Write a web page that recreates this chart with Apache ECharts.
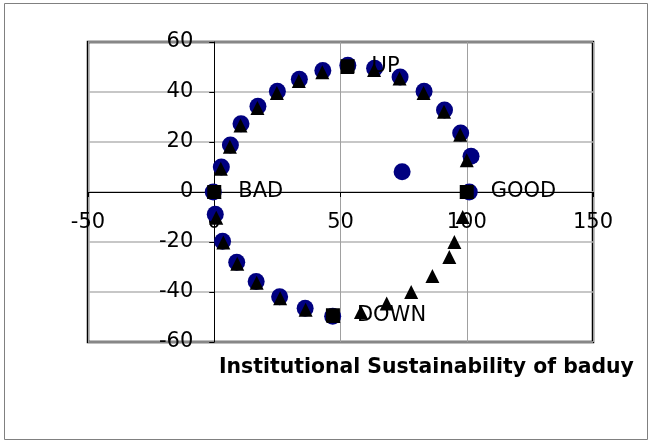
<!DOCTYPE html>
<html>
<head>
<meta charset="utf-8">
<script src="https://cdn.jsdelivr.net/npm/echarts@6/dist/echarts.min.js"></script>
<style>
  body { margin: 0; background: #fff; }
</style>
</head>
<body>
<div id="main" style="width: 648px; height: 443px"></div>
<script>
// blue circles
const circleX = [-0.4, 0.4, 3.3, 8.9, 16.6, 25.9, 36.0, 46.9, 101.0, 101.7, 97.6, 91.2, 83.1, 73.6, 63.5, 52.9, 43.0, 33.7, 25.0, 17.3, 10.6, 6.4, 2.8, 74.4];
const circleY = [0, -8.9, -19.7, -28.1, -35.8, -41.9, -46.5, -49.7, 0, 14.3, 23.6, 32.8, 40.3, 46.0, 49.5, 50.7, 48.6, 45.1, 40.3, 34.3, 27.3, 18.8, 10.0, 8.1];
// black triangles
const triX = [0, 0.8, 3.6, 9.1, 16.8, 26.1, 36.2, 47.2, 58.1, 68.3, 78.0, 86.4, 93.1, 95.1, 98.4, 100, 100.0, 97.4, 91.0, 82.9, 73.4, 63.3, 52.7, 42.8, 33.5, 24.8, 17.1, 10.4, 6.2, 2.6];
const triY = [0, -10.3, -20.2, -28.7, -36.3, -42.5, -47.1, -49.6, -48.0, -44.6, -40.0, -33.6, -26.0, -20.0, -10.0, 0, 12.7, 22.9, 32.1, 39.6, 45.4, 48.8, 50.0, 47.9, 44.4, 39.6, 33.6, 26.6, 18.1, 9.3];
// black squares with labels
const sqNames = ['BAD', 'GOOD', 'UP', 'DOWN'];
const sqX = [0, 100, 52.8, 47.0];
const sqY = [0, 0, 50.3, -49.3];

const xTicks = { min: -50, max: 150, step: 50 };
const yTicks = { min: -60, max: 60, step: 20 };
const axisTitle = 'Institutional Sustainability of baduy';

const font = 'DejaVu Sans';
const W = 648, H = 443;
const grid = { left: 88, right: 55, top: 42, bottom: 101 };

// axes cross at zero, so move lines + labels there
const gridW = W - grid.left - grid.right;
const gridH = H - grid.top - grid.bottom;
const xOffset = -gridH * (0 - yTicks.min) / (yTicks.max - yTicks.min);
const yOffset = -gridW * (0 - xTicks.min) / (xTicks.max - xTicks.min);

function pairs(xs, ys) {
  return xs.map((x, i) => [x, ys[i]]);
}

var chart = echarts.init(document.getElementById('main'));
const option = {
  backgroundColor: '#fff',
  animation: false,
  title: {
    text: axisTitle,
    left: 219,
    top: 358,
    padding: 0,
    textStyle: { fontFamily: font, fontSize: 20.4, fontWeight: 'bold', color: '#000' }
  },
  graphic: [
    {
      type: 'rect',
      shape: { x: 4.5, y: 3.5, width: 643, height: 436 },
      style: { fill: 'none', stroke: '#808080', lineWidth: 1 },
      silent: true,
      z: -1
    }
  ],
  grid: {
    left: grid.left,
    right: grid.right,
    top: grid.top,
    bottom: grid.bottom,
    show: true,
    borderColor: '#000',
    borderWidth: 2.5,
    backgroundColor: '#fff'
  },
  xAxis: {
    type: 'value',
    min: xTicks.min,
    max: xTicks.max,
    interval: xTicks.step,
    offset: xOffset,
    axisLine: { onZero: false, lineStyle: { color: '#000', width: 1 } },
    axisTick: { show: true, length: 5, lineStyle: { color: '#000' } },
    axisLabel: { margin: 20, fontFamily: font, fontSize: 21, color: '#000' },
    splitLine: { show: true, lineStyle: { color: '#a0a0a0', width: 1 } }
  },
  yAxis: {
    type: 'value',
    min: yTicks.min,
    max: yTicks.max,
    interval: yTicks.step,
    offset: yOffset,
    axisLine: { onZero: false, lineStyle: { color: '#000', width: 1 } },
    axisTick: { show: true, length: 5, lineStyle: { color: '#000' } },
    axisLabel: { margin: 21, fontFamily: font, fontSize: 21, color: '#000' },
    splitLine: { show: true, lineStyle: { color: '#b4b4b4', width: 1.5 } }
  },
  series: [
    {
      type: 'scatter',
      data: pairs(circleX, circleY),
      symbol: 'circle',
      symbolSize: 17,
      itemStyle: { color: '#000080', opacity: 1 }
    },
    {
      type: 'scatter',
      data: pairs(triX, triY),
      symbol: 'triangle',
      symbolSize: 14,
      itemStyle: { color: '#000', opacity: 1 }
    },
    {
      type: 'scatter',
      data: sqNames.map((n, i) => ({ name: n, value: [sqX[i], sqY[i]] })),
      symbol: 'rect',
      symbolSize: 14,
      itemStyle: { color: '#000', opacity: 1 },
      label: {
        show: true,
        position: 'right',
        distance: 17,
        formatter: '{b}',
        fontFamily: font,
        fontSize: 21,
        color: '#000'
      }
    }
  ]
};
chart.setOption(option);
</script>
</body>
</html>
